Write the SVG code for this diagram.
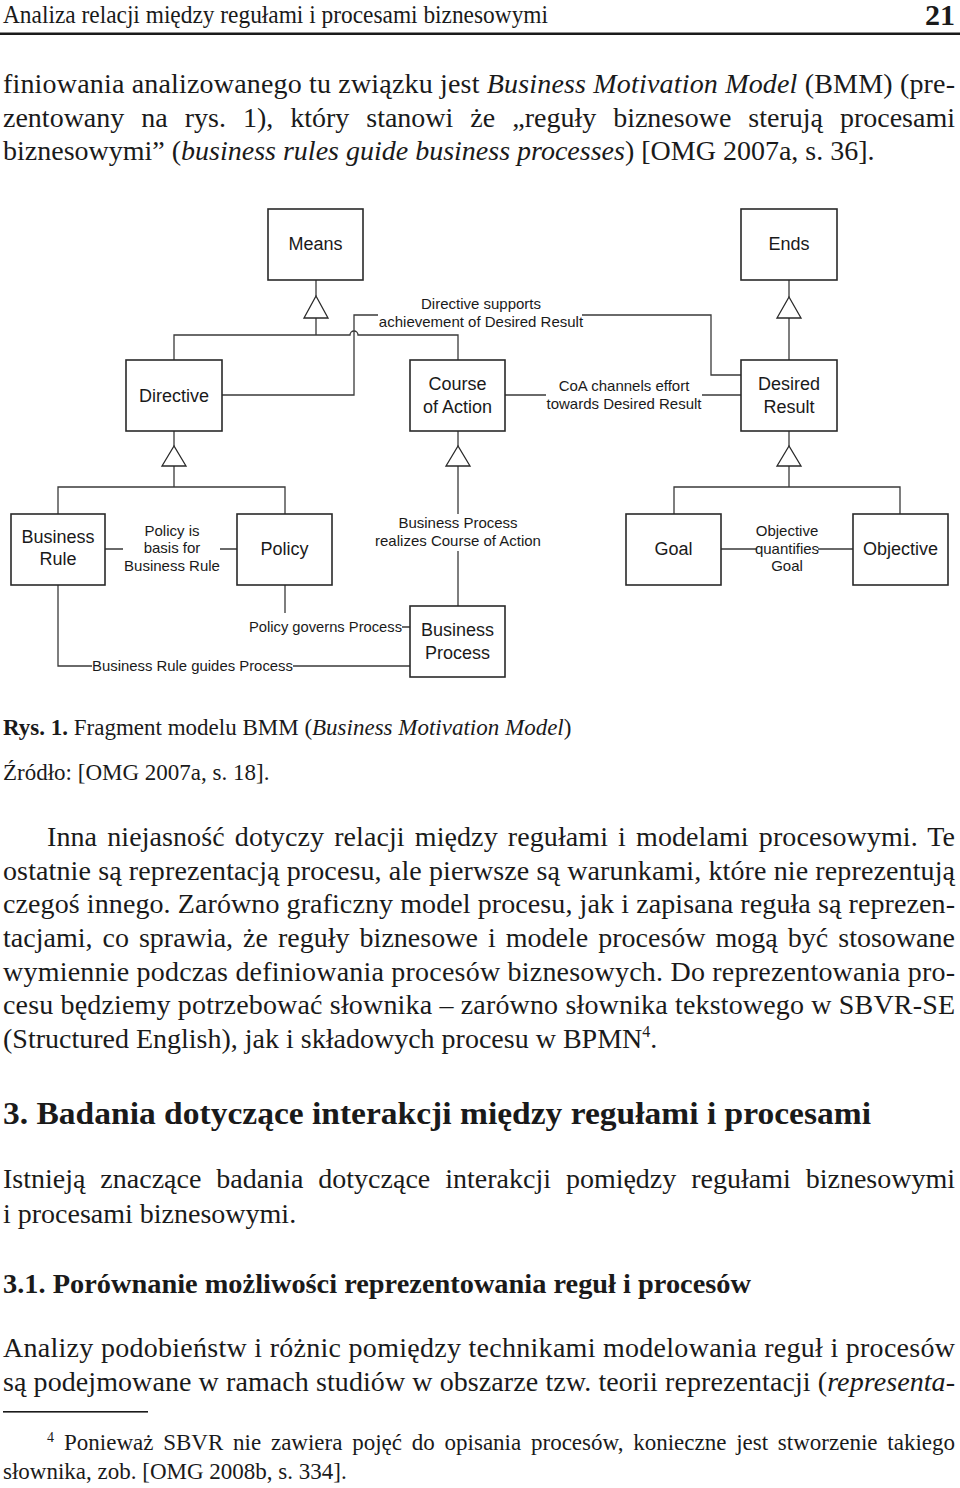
<svg xmlns="http://www.w3.org/2000/svg" width="960" height="1488" viewBox="0 0 960 1488">
<style>
.bg{fill:#ffffff}
.t{font-family:"Liberation Serif","Times New Roman",serif;fill:#1a1a1a}
.b{font-size:28px}
.it{font-style:italic}
.bd{font-weight:bold}
.box{fill:#ffffff;stroke:#2a2a2a;stroke-width:1.6}
.bl{font-family:"Liberation Sans",Arial,sans-serif;font-size:18px;fill:#1a1a1a;text-anchor:middle}
.lb{font-family:"Liberation Sans",Arial,sans-serif;font-size:15px;fill:#1a1a1a;text-anchor:middle}
.ln{fill:none;stroke:#3a3a3a;stroke-width:1.3}
.tri{fill:#ffffff;stroke:#2a2a2a;stroke-width:1.3}
</style>
<rect class="bg" x="0" y="0" width="960" height="1488"/>

<!-- page header -->
<g id="header">
<text class="t" x="3" y="23" font-size="25" textLength="545" lengthAdjust="spacingAndGlyphs">Analiza relacji między regułami i procesami biznesowymi</text>
<text class="t bd" x="955" y="25" font-size="30" text-anchor="end">21</text>
<rect x="0" y="32.5" width="960" height="2.5" fill="#1a1a1a"/>
</g>

<!-- paragraph 1 -->
<g id="para1">
<text class="t b" x="3" y="93" textLength="952" lengthAdjust="spacing">finiowania analizowanego tu związku jest <tspan class="it">Business Motivation Model</tspan> (BMM) (pre-</text>
<text class="t b" x="3" y="127" textLength="952" lengthAdjust="spacing" word-spacing="10">zentowany na rys. 1), który stanowi że „reguły biznesowe sterują procesami</text>
<text class="t b" x="3" y="160">biznesowymi” (<tspan class="it">business rules guide business processes</tspan>) [OMG 2007a, s. 36].</text>
</g>

<!-- diagram connectors -->
<g id="connectors">
<path class="ln" d="M316,280 V296 M316,318 V335"/>
<path class="ln" d="M174,360 V335 H350 A4,4 0 0 1 358,335 H458 V360"/>
<polygon class="tri" points="316,296 304,318 328,318"/>
<path class="ln" d="M789,280 V297 M789,318 V360"/>
<polygon class="tri" points="789,297 777,318 801,318"/>
<path class="ln" d="M174,431 V446 M174,466 V487 M58,514 V487 H285 V514"/>
<polygon class="tri" points="174,446 162,466 186,466"/>
<path class="ln" d="M458,431 V446 M458,466 V514 M458,551 V606"/>
<polygon class="tri" points="458,446 446,466 470,466"/>
<path class="ln" d="M789,431 V446 M789,466 V487 M674,514 V487 H900 V514"/>
<polygon class="tri" points="789,446 777,466 801,466"/>
<path class="ln" d="M222,395 H354 V315 H378 M582,315 H711 V375 H741"/>
<path class="ln" d="M505,395 H546 M702,395 H741"/>
<path class="ln" d="M105,549 H123 M220,549 H237"/>
<path class="ln" d="M721,549 H757 M818,549 H853"/>
<path class="ln" d="M285,585 V613 M402,627 H410"/>
<path class="ln" d="M58,585 V666 H92 M293,666 H410"/>
</g>

<!-- connector labels -->
<g id="connector-labels">
<text class="lb" x="481" y="309">Directive supports</text>
<text class="lb" x="481" y="327">achievement of Desired Result</text>
<text class="lb" x="624" y="391">CoA channels effort</text>
<text class="lb" x="624" y="409">towards Desired Result</text>
<text class="lb" x="172" y="536">Policy is</text>
<text class="lb" x="172" y="553">basis for</text>
<text class="lb" x="172" y="571">Business Rule</text>
<text class="lb" x="458" y="528">Business Process</text>
<text class="lb" x="458" y="546">realizes Course of Action</text>
<text class="lb" x="787" y="536">Objective</text>
<text class="lb" x="787" y="554">quantifies</text>
<text class="lb" x="787" y="571">Goal</text>
<text class="lb" x="325.5" y="632" textLength="153" lengthAdjust="spacingAndGlyphs">Policy governs Process</text>
<text class="lb" x="192.5" y="671" textLength="201" lengthAdjust="spacingAndGlyphs">Business Rule guides Process</text>
</g>

<!-- nodes -->
<g id="means"><rect class="box" x="268" y="209" width="95" height="71"/><text class="bl" x="315.5" y="250">Means</text></g>
<g id="ends"><rect class="box" x="741" y="209" width="96" height="71"/><text class="bl" x="789" y="250">Ends</text></g>
<g id="directive"><rect class="box" x="126" y="360" width="96" height="71"/><text class="bl" x="174" y="402">Directive</text></g>
<g id="course-of-action"><rect class="box" x="410" y="360" width="95" height="71"/><text class="bl" x="457.5" y="390">Course</text><text class="bl" x="457.5" y="413">of Action</text></g>
<g id="desired-result"><rect class="box" x="741" y="360" width="96" height="71"/><text class="bl" x="789" y="390">Desired</text><text class="bl" x="789" y="413">Result</text></g>
<g id="business-rule"><rect class="box" x="11" y="514" width="94" height="71"/><text class="bl" x="58" y="543">Business</text><text class="bl" x="58" y="565">Rule</text></g>
<g id="policy"><rect class="box" x="237" y="514" width="95" height="71"/><text class="bl" x="284.5" y="555">Policy</text></g>
<g id="goal"><rect class="box" x="626" y="514" width="95" height="71"/><text class="bl" x="673.5" y="555">Goal</text></g>
<g id="objective"><rect class="box" x="853" y="514" width="95" height="71"/><text class="bl" x="900.5" y="555">Objective</text></g>
<g id="business-process"><rect class="box" x="410" y="606" width="95" height="71"/><text class="bl" x="457.5" y="636">Business</text><text class="bl" x="457.5" y="659">Process</text></g>

<!-- caption -->
<g id="caption">
<text class="t" x="3" y="735" font-size="23"><tspan class="bd">Rys. 1.</tspan> Fragment modelu BMM (<tspan class="it">Business Motivation Model</tspan>)</text>
<text class="t" x="3" y="780" font-size="23">Źródło: [OMG 2007a, s. 18].</text>
</g>

<!-- paragraph 2 -->
<g id="para2">
<text class="t b" x="47" y="846" textLength="908" lengthAdjust="spacing" word-spacing="3">Inna niejasność dotyczy relacji między regułami i modelami procesowymi. Te</text>
<text class="t b" x="3" y="880" textLength="952" lengthAdjust="spacing">ostatnie są reprezentacją procesu, ale pierwsze są warunkami, które nie reprezentują</text>
<text class="t b" x="3" y="913" textLength="952" lengthAdjust="spacing">czegoś innego. Zarówno graficzny model procesu, jak i zapisana reguła są reprezen-</text>
<text class="t b" x="3" y="947" textLength="952" lengthAdjust="spacing" word-spacing="3">tacjami, co sprawia, że reguły biznesowe i modele procesów mogą być stosowane</text>
<text class="t b" x="3" y="981" textLength="952" lengthAdjust="spacing">wymiennie podczas definiowania procesów biznesowych. Do reprezentowania pro-</text>
<text class="t b" x="3" y="1014" textLength="952" lengthAdjust="spacing">cesu będziemy potrzebować słownika – zarówno słownika tekstowego w SBVR-SE</text>
<text class="t b" x="3" y="1048">(Structured English), jak i składowych procesu w BPMN<tspan font-size="16" dy="-11">4</tspan><tspan dy="11">.</tspan></text>
</g>

<!-- section 3 -->
<g id="section3">
<text class="t bd" x="3" y="1124" font-size="32" textLength="868" lengthAdjust="spacingAndGlyphs">3. Badania dotyczące interakcji między regułami i procesami</text>
<text class="t b" x="3" y="1188" textLength="952" lengthAdjust="spacing" word-spacing="8">Istnieją znaczące badania dotyczące interakcji pomiędzy regułami biznesowymi</text>
<text class="t b" x="3" y="1223">i procesami biznesowymi.</text>
</g>

<!-- section 3.1 -->
<g id="section31">
<text class="t bd" x="3" y="1293" font-size="28" textLength="748" lengthAdjust="spacingAndGlyphs">3.1. Porównanie możliwości reprezentowania reguł i procesów</text>
<text class="t b" x="3" y="1357" textLength="952" lengthAdjust="spacing">Analizy podobieństw i różnic pomiędzy technikami modelowania reguł i procesów</text>
<text class="t b" x="3" y="1391" textLength="952" lengthAdjust="spacing">są podejmowane w ramach studiów w obszarze tzw. teorii reprezentacji (<tspan class="it">representa-</tspan></text>
</g>

<!-- footnote -->
<g id="footnote">
<rect x="3" y="1411" width="145" height="1.6" fill="#1a1a1a"/>
<text class="t" x="47" y="1442" font-size="14">4</text>
<text class="t" x="64" y="1450" font-size="23" textLength="891" lengthAdjust="spacing" word-spacing="4">Ponieważ SBVR nie zawiera pojęć do opisania procesów, konieczne jest stworzenie takiego</text>
<text class="t" x="3" y="1479" font-size="23">słownika,  zob. [OMG 2008b, s. 334].</text>
</g>
</svg>
